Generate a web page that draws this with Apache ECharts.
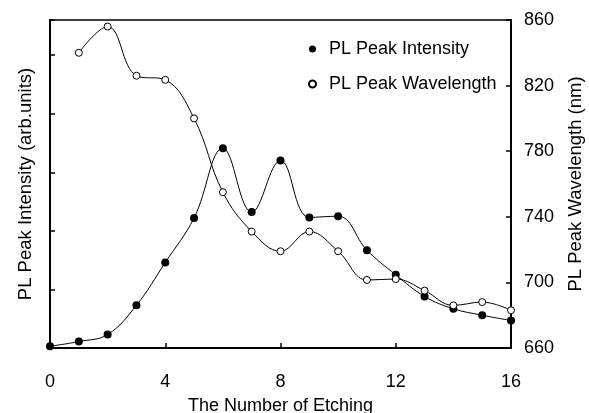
<!DOCTYPE html>
<html>
<head>
<meta charset="utf-8">
<script src="https://cdn.jsdelivr.net/npm/echarts@6/dist/echarts.min.js"></script>
<style>
	html, body { margin: 0; padding: 0; background: #fff; }
	#main { width: 589px; height: 413px; }
</style>
</head>
<body>
<div id="main"></div>
<script>
// x = number of etching
let etchIntensity = [0, 1, 2, 3, 4, 5, 6, 7, 8, 9, 10, 11, 12, 13, 14, 15, 16];
let intensity = [0.03, 0.11, 0.23, 0.73, 1.46, 2.22, 3.41, 2.32, 3.20, 2.23, 2.25, 1.67, 1.25, 0.88, 0.67, 0.56, 0.47];
let etchWavelength = [1, 2, 3, 4, 5, 6, 7, 8, 9, 10, 11, 12, 13, 14, 15, 16];
let wavelength = [840, 856, 826, 823.5, 800, 755, 731, 719, 731, 719, 701.5, 702, 695, 686, 688, 683];
let xTicks = [0, 4, 8, 12, 16];
let rightTicks = [660, 700, 740, 780, 820, 860];

let fontName = 'Liberation Sans, Arial, sans-serif';

function toPairs(xs, ys){
	let out = [];
	for(let i = 0; i < xs.length; i++) out.push([xs[i], ys[i]]);
	return out;
}

let myChart = echarts.init(document.getElementById('main'));
myChart.setOption({
	animation: false,
	textStyle: { fontFamily: fontName, color: '#000' },
	grid: {
		left: 50,
		right: 78,
		top: 20,
		bottom: 65,
		outerBoundsMode: 'none',
		containLabel: false,
		show: true,
		borderColor: '#000',
		borderWidth: 1.5
	},
	legend: {
		orient: 'vertical',
		left: 303,
		top: 35,
		itemWidth: 7,
		itemHeight: 7,
		itemGap: 17,
		icon: 'circle',
		textStyle: { fontSize: 18, color: '#000', fontFamily: fontName, padding: [0, 0, 0, 8] },
		data: ['PL Peak Intensity', 'PL Peak Wavelength']
	},
	xAxis: {
		type: 'value',
		min: xTicks[0],
		max: xTicks[xTicks.length - 1],
		interval: 4,
		name: 'The Number of Etching',
		nameLocation: 'middle',
		nameGap: 49,
		nameTextStyle: { fontSize: 18, color: '#000' },
		axisLine: { lineStyle: { color: '#000', width: 2 } },
		axisTick: { inside: true, length: 5, lineStyle: { color: '#000', width: 1.5 } },
		axisLabel: { fontSize: 18, color: '#000', margin: 25 },
		splitLine: { show: false }
	},
	yAxis: [
		{
			type: 'value',
			min: 0,
			max: 5.6,
			interval: 1,
			position: 'left',
			name: 'PL Peak Intensity (arb.units)',
			nameLocation: 'middle',
			nameRotate: 90,
			nameGap: 15,
			nameTextStyle: { fontSize: 18.5, color: '#000' },
			axisLine: { show: true, lineStyle: { color: '#000', width: 2 } },
			axisTick: { inside: true, length: 5, lineStyle: { color: '#000', width: 1.5 } },
			axisLabel: { show: false },
			splitLine: { show: false }
		},
		{
			type: 'value',
			min: rightTicks[0],
			max: rightTicks[rightTicks.length - 1],
			interval: 40,
			position: 'right',
			name: 'PL Peak Wavelength (nm)',
			nameLocation: 'middle',
			nameRotate: 90,
			nameGap: 55,
			nameTextStyle: { fontSize: 18.5, color: '#000' },
			axisLine: { show: true, lineStyle: { color: '#000', width: 2 } },
			axisTick: { inside: true, length: 5, lineStyle: { color: '#000', width: 1.5 } },
			axisLabel: { fontSize: 18, color: '#000', margin: 13 },
			splitLine: { show: false }
		}
	],
	series: [
		{
			name: 'PL Peak Intensity',
			type: 'line',
			yAxisIndex: 0,
			smooth: 0.4,
			symbol: 'circle',
			symbolSize: 8,
			itemStyle: { color: '#000', borderColor: '#000', borderWidth: 0 },
			lineStyle: { color: '#000', width: 1 },
			data: toPairs(etchIntensity, intensity)
		},
		{
			name: 'PL Peak Wavelength',
			type: 'line',
			yAxisIndex: 1,
			smooth: 0.4,
			symbol: 'circle',
			symbolSize: 7,
			itemStyle: { color: '#fff', borderColor: '#000', borderWidth: 1 },
			lineStyle: { color: '#000', width: 1 },
			data: toPairs(etchWavelength, wavelength)
		}
	]
});
</script>
</body>
</html>
